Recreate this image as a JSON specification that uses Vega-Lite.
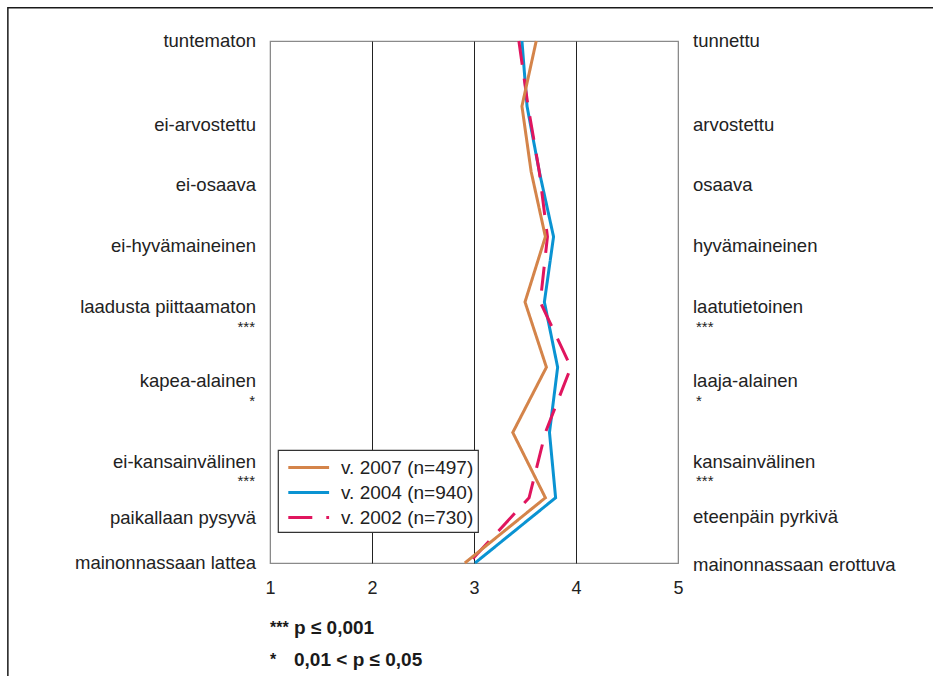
{
  "$schema": "https://vega.github.io/schema/vega-lite/v6.json",
  "width": 408,
  "height": 522,
  "autosize": {"type": "none"},
  "padding": {"left": 270, "top": 41, "right": 255, "bottom": 113},
  "background": "white",
  "config": {
    "font": "Liberation Sans",
    "view": {"stroke": "#8a8a8a", "strokeWidth": 1.2},
    "legend": {
      "orient": "none",
      "legendX": 8,
      "legendY": 409,
      "strokeColor": "#333333",
      "strokeWidth": 1.2,
      "fillColor": "white",
      "padding": 4,
      "labelFontSize": 19,
      "labelFont": "Liberation Sans",
      "labelColor": "#222222",
      "labelOffset": 32,
      "symbolType": "M-0.6,0H2.8",
      "symbolSize": 576,
      "symbolStrokeWidth": 3,
      "rowPadding": 1,
      "cornerRadius": 0
    }
  },
  "datasets": {
    "profile": [
      {"serie": "v. 2004 (n=940)", "i": 0, "v": 3.47},
      {"serie": "v. 2004 (n=940)", "i": 1, "v": 3.52},
      {"serie": "v. 2004 (n=940)", "i": 2, "v": 3.64},
      {"serie": "v. 2004 (n=940)", "i": 3, "v": 3.78},
      {"serie": "v. 2004 (n=940)", "i": 4, "v": 3.69},
      {"serie": "v. 2004 (n=940)", "i": 5, "v": 3.82},
      {"serie": "v. 2004 (n=940)", "i": 6, "v": 3.74},
      {"serie": "v. 2004 (n=940)", "i": 7, "v": 3.80},
      {"serie": "v. 2004 (n=940)", "i": 8, "v": 3.01},
      {"serie": "v. 2002 (n=730)", "i": 0, "v": 3.44},
      {"serie": "v. 2002 (n=730)", "i": 1, "v": 3.53},
      {"serie": "v. 2002 (n=730)", "i": 2, "v": 3.64},
      {"serie": "v. 2002 (n=730)", "i": 3, "v": 3.72},
      {"serie": "v. 2002 (n=730)", "i": 4, "v": 3.65},
      {"serie": "v. 2002 (n=730)", "i": 5, "v": 3.95},
      {"serie": "v. 2002 (n=730)", "i": 6, "v": 3.70},
      {"serie": "v. 2002 (n=730)", "i": 7, "v": 3.54},
      {"serie": "v. 2002 (n=730)", "i": 8, "v": 2.95},
      {"serie": "v. 2007 (n=497)", "i": 0, "v": 3.61},
      {"serie": "v. 2007 (n=497)", "i": 1, "v": 3.47},
      {"serie": "v. 2007 (n=497)", "i": 2, "v": 3.56},
      {"serie": "v. 2007 (n=497)", "i": 3, "v": 3.70},
      {"serie": "v. 2007 (n=497)", "i": 4, "v": 3.50},
      {"serie": "v. 2007 (n=497)", "i": 5, "v": 3.71},
      {"serie": "v. 2007 (n=497)", "i": 6, "v": 3.38},
      {"serie": "v. 2007 (n=497)", "i": 7, "v": 3.70},
      {"serie": "v. 2007 (n=497)", "i": 8, "v": 2.91}
    ],
    "labels": [
      {"side": "left", "t": "tuntematon", "pos": 0},
      {"side": "left", "t": "ei-arvostettu", "pos": 1.29},
      {"side": "left", "t": "ei-osaava", "pos": 2.21},
      {"side": "left", "t": "ei-hyvämaineinen", "pos": 3.14},
      {"side": "left", "t": "laadusta piittaamaton", "pos": 4.08},
      {"side": "left", "t": "***", "pos": 4.38},
      {"side": "left", "t": "kapea-alainen", "pos": 5.21},
      {"side": "left", "t": "*", "pos": 5.51},
      {"side": "left", "t": "ei-kansainvälinen", "pos": 6.45},
      {"side": "left", "t": "***", "pos": 6.75},
      {"side": "left", "t": "paikallaan pysyvä", "pos": 7.31},
      {"side": "left", "t": "mainonnassaan lattea", "pos": 8},
      {"side": "right", "t": "tunnettu", "pos": 0},
      {"side": "right", "t": "arvostettu", "pos": 1.29},
      {"side": "right", "t": "osaava", "pos": 2.21},
      {"side": "right", "t": "hyvämaineinen", "pos": 3.14},
      {"side": "right", "t": "laatutietoinen", "pos": 4.08},
      {"side": "right", "t": "***", "pos": 4.38},
      {"side": "right", "t": "laaja-alainen", "pos": 5.21},
      {"side": "right", "t": "*", "pos": 5.51},
      {"side": "right", "t": "kansainvälinen", "pos": 6.45},
      {"side": "right", "t": "***", "pos": 6.75},
      {"side": "right", "t": "eteenpäin pyrkivä", "pos": 7.29},
      {"side": "right", "t": "mainonnassaan erottuva", "pos": 8.03}
    ],
    "notes": [
      {"sym": "***", "desc": "p ≤ 0,001", "pos": 9.0},
      {"sym": "*", "desc": "0,01 < p ≤ 0,05", "pos": 9.49}
    ]
  },
  "layer": [
    {
      "data": {"name": "profile"},
      "mark": {"type": "line", "strokeWidth": 3},
      "encoding": {
        "x": {
          "field": "v", "type": "quantitative",
          "scale": {"domain": [1, 5], "nice": false, "zero": false},
          "axis": {
            "values": [1, 2, 3, 4, 5],
            "format": "d",
            "grid": true,
            "gridColor": {"condition": {"test": "datum.value === 1 || datum.value === 5", "value": "#8a8a8a"}, "value": "#222222"},
            "gridWidth": 1,
            "domain": false,
            "ticks": false,
            "labelFontSize": 18,
            "labelFont": "Liberation Sans",
            "labelColor": "#222222",
            "labelPadding": 16,
            "labelFlush": false,
            "title": null
          }
        },
        "y": {"field": "i", "type": "quantitative", "scale": {"domain": [0, 8], "reverse": true, "nice": false, "zero": false}, "axis": null},
        "order": {"field": "i"},
        "color": {
          "field": "serie", "type": "nominal",
          "scale": {"domain": ["v. 2007 (n=497)", "v. 2004 (n=940)", "v. 2002 (n=730)"], "range": ["#D4844A", "#0A93D2", "#E0155E"]},
          "legend": {"title": null}
        },
        "strokeDash": {
          "field": "serie", "type": "nominal",
          "scale": {"domain": ["v. 2007 (n=497)", "v. 2004 (n=940)", "v. 2002 (n=730)"], "range": [[1, 0], [1, 0], [24, 14]]},
          "legend": {"title": null}
        }
      }
    },
    {
      "data": {"values": [{"frame": 1}]},
      "mark": {"type": "rect", "filled": false, "stroke": "#1a1a1a", "strokeWidth": 1.5},
      "encoding": {
        "x": {"datum": -1.57, "type": "quantitative"},
        "x2": {"datum": 7.7},
        "y": {"datum": -0.51, "type": "quantitative"},
        "y2": {"datum": 10.3}
      }
    },
    {
      "data": {"name": "labels"},
      "transform": [{"filter": "datum.side === 'left' && indexof(datum.t, '*') < 0"}],
      "mark": {"type": "text", "align": "right", "baseline": "middle", "fontSize": 18.5, "dx": -14, "color": "#222222", "font": "Liberation Sans"},
      "encoding": {
        "x": {"datum": 1, "type": "quantitative"},
        "y": {"field": "pos", "type": "quantitative"},
        "text": {"field": "t"}
      }
    },
    {
      "data": {"name": "labels"},
      "transform": [{"filter": "datum.side === 'left' && indexof(datum.t, '*') >= 0"}],
      "mark": {"type": "text", "align": "right", "baseline": "middle", "fontSize": 15, "dx": -15, "color": "#222222", "font": "Liberation Sans"},
      "encoding": {
        "x": {"datum": 1, "type": "quantitative"},
        "y": {"field": "pos", "type": "quantitative"},
        "text": {"field": "t"}
      }
    },
    {
      "data": {"name": "labels"},
      "transform": [{"filter": "datum.side === 'right' && indexof(datum.t, '*') < 0"}],
      "mark": {"type": "text", "align": "left", "baseline": "middle", "fontSize": 18.5, "dx": 15, "color": "#222222", "font": "Liberation Sans"},
      "encoding": {
        "x": {"datum": 5, "type": "quantitative"},
        "y": {"field": "pos", "type": "quantitative"},
        "text": {"field": "t"}
      }
    },
    {
      "data": {"name": "labels"},
      "transform": [{"filter": "datum.side === 'right' && indexof(datum.t, '*') >= 0"}],
      "mark": {"type": "text", "align": "left", "baseline": "middle", "fontSize": 15, "dx": 18, "color": "#222222", "font": "Liberation Sans"},
      "encoding": {
        "x": {"datum": 5, "type": "quantitative"},
        "y": {"field": "pos", "type": "quantitative"},
        "text": {"field": "t"}
      }
    },
    {
      "data": {"name": "notes"},
      "mark": {"type": "text", "align": "left", "baseline": "middle", "fontSize": 16, "fontWeight": "bold", "color": "#1a1a1a", "font": "Liberation Sans"},
      "encoding": {
        "x": {"datum": 1, "type": "quantitative"},
        "y": {"field": "pos", "type": "quantitative"},
        "text": {"field": "sym"}
      }
    },
    {
      "data": {"name": "notes"},
      "mark": {"type": "text", "align": "left", "baseline": "middle", "fontSize": 19, "fontWeight": "bold", "dx": 24, "color": "#1a1a1a", "font": "Liberation Sans"},
      "encoding": {
        "x": {"datum": 1, "type": "quantitative"},
        "y": {"field": "pos", "type": "quantitative"},
        "text": {"field": "desc"}
      }
    }
  ]
}
